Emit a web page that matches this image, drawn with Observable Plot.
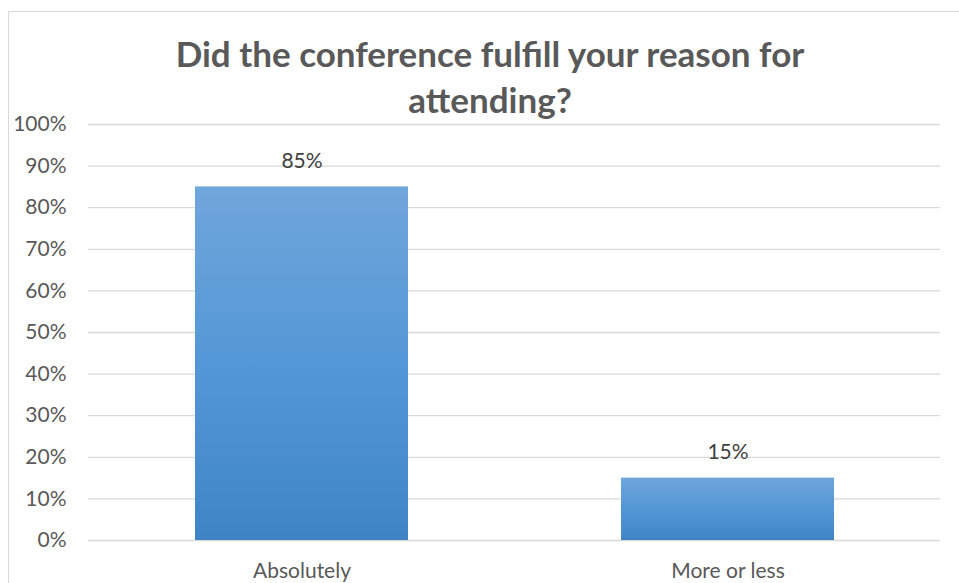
<!DOCTYPE html>
<html>
<head>
<meta charset="utf-8">
<script src="https://cdn.jsdelivr.net/npm/d3@7"></script>
<script src="https://cdn.jsdelivr.net/npm/@observablehq/plot@0.6"></script>
<style>
  html, body { margin: 0; padding: 0; background: #fff; overflow: hidden; }
  #wrap { position: relative; width: 959px; height: 583px; }
  #frame { position: absolute; left: 8px; top: 11px; width: 1000px; height: 700px; border: 1px solid #d9d9d9; box-sizing: border-box; }
  #title { position: absolute; left: 0; top: 30px; width: 980px; text-align: center; font-family: Lato, "Open Sans", sans-serif; font-weight: bold; font-size: 35px; line-height: 46px; color: #595959; }
  #chart { position: absolute; left: 0; top: 0; }
  #chart svg text { font-family: Lato, "Open Sans", sans-serif; }
</style>
</head>
<body>
<div id="wrap">
  <div id="frame"></div>
  <div id="chart"></div>
  <div id="title">Did the conference fulfill your reason for<br>attending?</div>
</div>
<script>
const categories = ["Absolutely", "More or less"];
const values = [0.85, 0.15];
const labels = ["85%", "15%"];
const yTicks = [0, 0.1, 0.2, 0.3, 0.4, 0.5, 0.6, 0.7, 0.8, 0.9, 1.0];

const data = categories.map((c, i) => ({category: c, value: values[i], label: labels[i]}));

const chart = Plot.plot({
  width: 959,
  height: 583,
  marginTop: 124,
  marginBottom: 43,
  marginLeft: 88,
  marginRight: 19,
  style: {background: "transparent", fontSize: "21px", color: "#595959"},
  x: {domain: categories, paddingInner: 0.5, paddingOuter: 0.25, label: null},
  y: {domain: [0, 1], label: null},
  marks: [
    Plot.gridY(yTicks, {stroke: "#d9d9d9", strokeOpacity: 1, strokeWidth: 1.3}),
    Plot.barY(data, {x: "category", y: "value", fill: "url(#barGrad)", style: "filter: drop-shadow(1px 1px 2px rgba(0,0,0,0.25))"}),
    Plot.text(data, {x: "category", y: "value", text: "label", dy: -26, fontSize: 21, fill: "#404040"}),
    Plot.axisX({tickSize: 0, tickPadding: 23, fontSize: 21, fill: "#595959", label: null}),
    Plot.axisY({ticks: yTicks, tickFormat: d3.format(".0%"), tickSize: 0, tickPadding: 22, fontSize: 21, fill: "#595959", label: null})
  ]
});

const svg = d3.select(chart);
const defs = svg.insert("defs", ":first-child");
const g = defs.append("linearGradient").attr("id", "barGrad").attr("x1", 0).attr("y1", 0).attr("x2", 0).attr("y2", 1);
g.append("stop").attr("offset", "0%").attr("stop-color", "#6fa6db");
g.append("stop").attr("offset", "50%").attr("stop-color", "#5497d6");
g.append("stop").attr("offset", "100%").attr("stop-color", "#3f85c6");

document.getElementById("chart").appendChild(chart);
</script>
</body>
</html>
